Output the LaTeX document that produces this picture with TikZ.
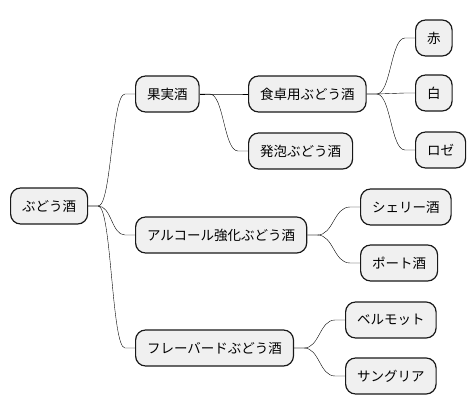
\documentclass[tikz,border=0pt]{standalone}
\usepackage{fontspec}
\setmainfont{Noto Sans CJK JP}
\usepackage{xcolor}
\usetikzlibrary{calc}

\begin{document}
\begin{tikzpicture}[x=1pt, y=-1pt, every node/.style={font=\fontsize{13.5}{16}\selectfont},
    topic/.style={draw=black!90, fill=black!6, line width=1.2pt, rounded corners=10pt,
      anchor=west, minimum height=36pt, inner xsep=11.5pt, inner ysep=0pt},
    branch/.style={line width=0.9pt, draw=black!90, to path={let \p1=($(\tikztostart.east)+(10,0)$),
      \p2=($(\tikztotarget.west)+(-10,0)$), \n1={0.5*\x1+0.5*\x2} in
      (\tikztostart.east) -- (\p1) .. controls (\n1,\y1) and (\n1,\y2) .. (\p2)
      -- (\tikztotarget.west)}}]
  \useasboundingbox (0,0) rectangle (474,415);
  \node[topic] (root) at (10,206) {ぶどう酒};
  \node[topic] (kajitsu) at (135,94) {果実酒};
  \node[topic] (table) at (248,94) {食卓用ぶどう酒};
  \node[topic] (sparkling) at (248,151) {発泡ぶどう酒};
  \node[topic] (red) at (415,38) {赤};
  \node[topic] (white) at (415,93) {白};
  \node[topic] (rose) at (415,150) {ロゼ};
  \node[topic] (fortified) at (135,235) {アルコール強化ぶどう酒};
  \node[topic] (sherry) at (360,207) {シェリー酒};
  \node[topic] (port) at (360,263) {ポート酒};
  \node[topic] (flavored) at (135,348) {フレーバードぶどう酒};
  \node[topic] (vermouth) at (345,320) {ベルモット};
  \node[topic] (sangria) at (345,376) {サングリア};
  % branches
  \draw (root) to[branch] (kajitsu);
  \draw (root) to[branch] (fortified);
  \draw (root) to[branch] (flavored);
  \draw (kajitsu) to[branch] (table);
  \draw (kajitsu) to[branch] (sparkling);
  \draw (table) to[branch] (red);
  \draw (table) to[branch] (white);
  \draw (table) to[branch] (rose);
  \draw (fortified) to[branch] (sherry);
  \draw (fortified) to[branch] (port);
  \draw (flavored) to[branch] (vermouth);
  \draw (flavored) to[branch] (sangria);
\end{tikzpicture}
\end{document}
